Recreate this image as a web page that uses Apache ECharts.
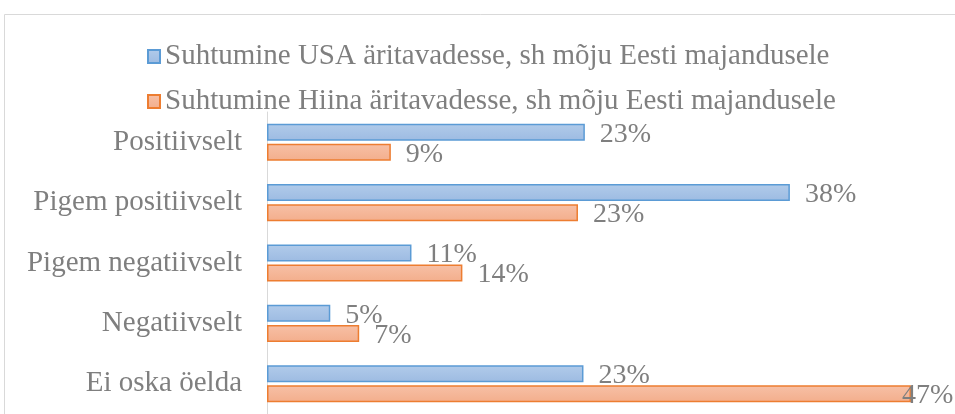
<!DOCTYPE html>
<html>
<head>
<meta charset="utf-8">
<script src="https://cdn.jsdelivr.net/npm/echarts@6/dist/echarts.min.js"></script>
<style>
  html, body { margin: 0; padding: 0; background: #fff; }
  #chart { width: 955px; height: 414px; }
</style>
</head>
<body>
<div id="chart"></div>
<script>
// categories, top to bottom
var categories = ['Positiivselt', 'Pigem positiivselt', 'Pigem negatiivselt', 'Negatiivselt', 'Ei oska öelda']
var seriesNames = [
  'Suhtumine USA äritavadesse, sh mõju Eesti majandusele',
  'Suhtumine Hiina äritavadesse, sh mõju Eesti majandusele'
]
// shares in % (labels show them rounded)
var usaValues = [23.1, 38, 10.5, 4.6, 23]
var chinaValues = [9, 22.6, 14.2, 6.7, 46.8]

var font = '"Liberation Serif", "Times New Roman", serif'
var textColor = '#7f7f7f'

var chart = echarts.init(document.getElementById('chart'))

function grad(top, bottom) {
  return new echarts.graphic.LinearGradient(0, 0, 0, 1, [
    { offset: 0, color: top },
    { offset: 1, color: bottom }
  ])
}

var labelStyle = {
  show: true,
  position: 'right',
  distance: 15,
  offset: [0, 2],
  color: textColor,
  fontFamily: font,
  fontSize: 28,
  formatter: function (p) {
    return Math.round(p.value) + '%'
  }
}

chart.setOption({
  animation: false,
  graphic: [{
    type: 'rect',
    shape: { x: 4.5, y: 14.5, width: 1000, height: 500 },
    style: { fill: 'none', stroke: '#d9d9d9', lineWidth: 1 },
    silent: true,
    z: -1
  }],
  legend: {
    orient: 'vertical',
    left: 142,
    top: 37,
    icon: 'rect',
    itemWidth: 12,
    itemHeight: 13,
    itemGap: 16,
    textStyle: { color: textColor, fontFamily: font, fontSize: 29 },
    data: seriesNames
  },
  grid: {
    left: 267,
    top: 112,
    width: 692,
    height: 305,
    containLabel: false
  },
  xAxis: {
    type: 'value',
    min: 0,
    max: 50,
    show: false
  },
  yAxis: {
    type: 'category',
    data: categories,
    inverse: true,
    axisLine: { show: true, lineStyle: { color: '#d9d9d9', width: 1 } },
    axisTick: { show: false },
    axisLabel: {
      margin: 25,
      color: textColor,
      fontFamily: font,
      fontSize: 29
    }
  },
  series: [{
    name: seriesNames[0],
    type: 'bar',
    data: usaValues,
    barWidth: 17,
    barGap: '18%',
    itemStyle: {
      color: grad('#b1cbea', '#9dbbe2'),
      borderColor: '#5b9bd5',
      borderWidth: 1.5
    },
    label: labelStyle
  }, {
    name: seriesNames[1],
    type: 'bar',
    data: chinaValues.map(function (v, i) {
      if (i === 4) {
        return { value: v, label: { offset: [-24, 2] } }
      }
      return v
    }),
    barWidth: 17,
    itemStyle: {
      color: grad('#f7c0a6', '#f3ae8c'),
      borderColor: '#ed7d31',
      borderWidth: 1.5
    },
    label: labelStyle
  }]
})
</script>
</body>
</html>
